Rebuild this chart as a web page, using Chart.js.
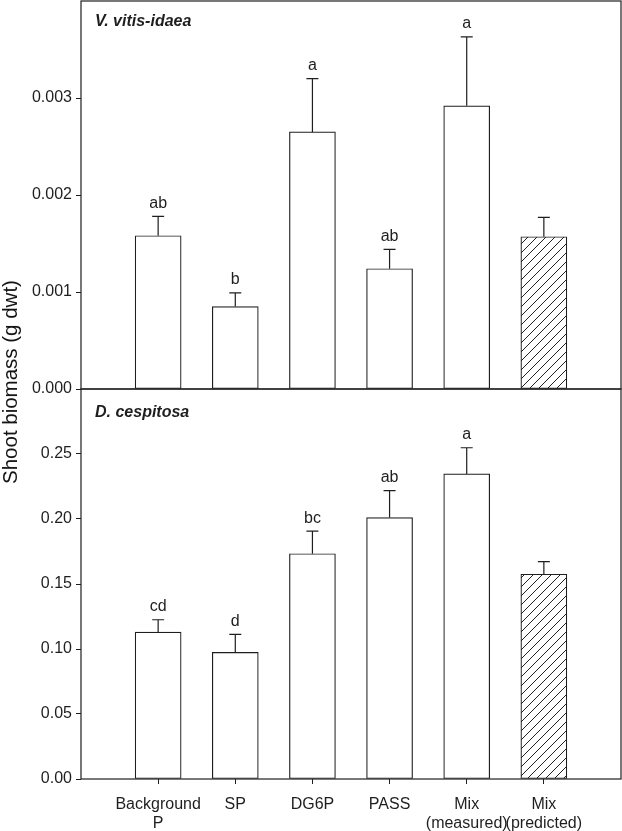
<!DOCTYPE html>
<html>
<head>
<meta charset="utf-8">
<script src="https://cdn.jsdelivr.net/npm/chart.js@4.4.1/dist/chart.umd.min.js"></script>
<style>
  body { margin: 0; background: #fff; }
  #wrap { position: relative; width: 622px; height: 831px; font-family: "Liberation Sans", Arial, sans-serif; }
  .panel { position: absolute; left: 0; width: 622px; }
  #topPanel { top: 0; height: 402px; }
  #bottomPanel { top: 388px; height: 443px; }
  #yTitle {
    position: absolute; left: 10px; top: 382px;
    transform: translate(-50%, -50%) rotate(-90deg);
    font-size: 20.5px; color: #111; white-space: nowrap;
  }
</style>
</head>
<body>
<div id="wrap">
  <div class="panel" id="topPanel"><canvas id="vitisChart"></canvas></div>
  <div class="panel" id="bottomPanel"><canvas id="cespChart"></canvas></div>
  <div id="yTitle">Shoot biomass (g dwt)</div>
</div>
<script>
// categories along x (shared by both panels)
const categories = [['Background', 'P'], 'SP', 'DG6P', 'PASS', ['Mix', '(measured)'], ['Mix', '(predicted)']];

// V. vitis-idaea
const vitisMean = [0.00158, 0.00085, 0.00265, 0.00124, 0.00292, 0.00157];
const vitisSE = [0.00020, 0.00014, 0.00055, 0.00020, 0.00071, 0.00020];
const vitisLetters = ['ab', 'b', 'a', 'ab', 'a', ''];
const vitisTicks = [0, 0.001, 0.002, 0.003];

// D. cespitosa
const cespMean = [0.113, 0.0974, 0.1733, 0.2011, 0.2347, 0.1575];
const cespSE = [0.0095, 0.0138, 0.0173, 0.0208, 0.0201, 0.0097];
const cespLetters = ['cd', 'd', 'bc', 'ab', 'a', ''];
const cespTicks = [0, 0.05, 0.10, 0.15, 0.20, 0.25];

const INK = '#1e1e1e';
const FONT = '"Liberation Sans", Arial, sans-serif';

function hatchPattern() {
  const c = document.createElement('canvas');
  c.width = 9; c.height = 9;
  const g = c.getContext('2d');
  g.fillStyle = '#fff';
  g.fillRect(0, 0, 9, 9);
  g.strokeStyle = '#222';
  g.lineWidth = 1;
  g.beginPath();
  g.moveTo(-1, 10); g.lineTo(10, -1);
  g.moveTo(-1, 1); g.lineTo(1, -1);
  g.moveTo(8, 10); g.lineTo(10, 8);
  g.stroke();
  return g.createPattern(c, 'repeat');
}

// frame + panel title + error bars and letters
const panelDecor = {
  id: 'panelDecor',
  afterDatasetsDraw(chart, args, opts) {
    const { ctx, chartArea: a, scales } = chart;
    const x = scales.x, y = scales.y;
    ctx.save();
    ctx.strokeStyle = INK;
    ctx.lineWidth = 1.2;
    ctx.fillStyle = INK;
    opts.mean.forEach((m, i) => {
      const px = x.getPixelForValue(i + 1);
      const yTop = y.getPixelForValue(m);
      const yErr = y.getPixelForValue(m + opts.se[i]);
      ctx.beginPath();
      ctx.moveTo(px, yTop);
      ctx.lineTo(px, yErr);
      ctx.moveTo(px - 6, yErr);
      ctx.lineTo(px + 6, yErr);
      ctx.stroke();
      if (opts.letters[i]) {
        ctx.font = '16px ' + FONT;
        ctx.textAlign = 'center';
        ctx.textBaseline = 'bottom';
        ctx.fillText(opts.letters[i], px, yErr - 5);
      }
    });
    ctx.strokeRect(a.left, a.top, a.right - a.left, a.bottom - a.top);
    ctx.font = 'italic bold 16px ' + FONT;
    ctx.textAlign = 'left';
    ctx.textBaseline = 'middle';
    ctx.fillText(opts.title, a.left + 14, a.top + opts.titleOffset);
    ctx.restore();
  }
};

function makePanel(id, p) {
  const hatch = hatchPattern();
  return new Chart(document.getElementById(id), {
    type: 'bar',
    data: {
      datasets: [{
        data: p.mean.map((v, i) => ({ x: i + 1, y: v })),
        backgroundColor: p.mean.map((v, i) => i === p.mean.length - 1 ? hatch : '#fff'),
        borderColor: INK,
        borderWidth: 1.2,
        borderSkipped: false,
        barThickness: 46
      }]
    },
    options: {
      responsive: true,
      maintainAspectRatio: false,
      animation: false,
      layout: { padding: { top: 1, right: 1, bottom: p.showX ? 0 : 13, left: 0 } },
      plugins: {
        legend: { display: false },
        tooltip: { enabled: false },
        panelDecor: p
      },
      scales: {
        x: {
          type: 'linear',
          min: 0,
          max: categories.length + 1,
          offset: false,
          display: p.showX,
          border: { display: false },
          grid: { offset: false, drawOnChartArea: false, drawTicks: true, tickLength: 5, color: INK },
          afterBuildTicks: s => { s.ticks = categories.map((c, i) => ({ value: i + 1 })); },
          afterFit: s => {
            s.height = p.showX ? 52 : 0;
            s.paddingLeft = 0; s.paddingRight = 0;
          },
          ticks: {
            autoSkip: false,
            maxRotation: 0,
            padding: 11,
            color: INK,
            font: { family: FONT, size: 16 },
            callback: v => categories[v - 1]
          }
        },
        y: {
          min: 0,
          max: p.max,
          border: { display: false },
          grid: { drawOnChartArea: false, drawTicks: true, tickLength: 5, color: INK },
          afterBuildTicks: s => { s.ticks = p.ticks.map(v => ({ value: v })); },
          afterFit: s => {
            s.width = 81;
            s.paddingTop = 0; s.paddingBottom = 0;
          },
          ticks: {
            padding: 4,
            color: INK,
            font: { family: FONT, size: 16 },
            callback: v => v.toFixed(p.decimals)
          }
        }
      }
    },
    plugins: [panelDecor]
  });
}

makePanel('vitisChart', {
  mean: vitisMean, se: vitisSE, letters: vitisLetters, ticks: vitisTicks,
  max: 0.004, decimals: 3, title: 'V. vitis-idaea', titleOffset: 21, showX: false
});
makePanel('cespChart', {
  mean: cespMean, se: cespSE, letters: cespLetters, ticks: cespTicks,
  max: 0.30, decimals: 2, title: 'D. cespitosa', titleOffset: 24, showX: true
});
</script>
</body>
</html>
